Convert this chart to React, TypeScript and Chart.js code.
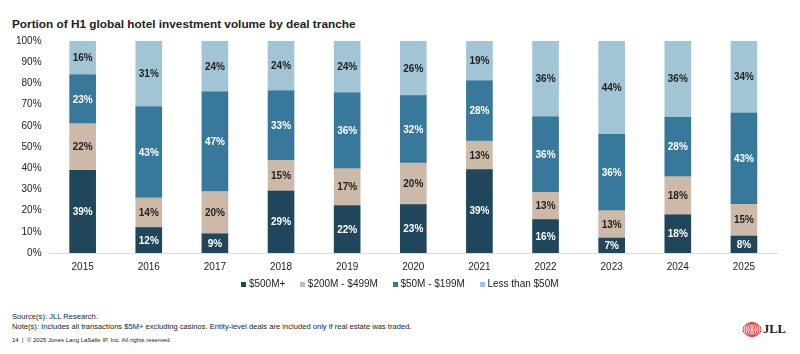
import React, { useEffect, useRef } from "react";
import { Chart, registerables } from "chart.js";

Chart.register(...registerables);

const years = ["2015", "2016", "2017", "2018", "2019", "2020", "2021", "2022", "2023", "2024", "2025"];
const over500 = [39, 12, 9, 29.2, 22.4, 22.8, 39.4, 15.8, 7, 18, 8];
const from200to499 = [22, 14, 20, 14.5, 17.4, 19.6, 13.4, 12.8, 13, 18, 15];
const from50to199 = [23, 43, 47, 32.8, 35.8, 31.8, 28.4, 35.6, 36, 28, 43];
const under50 = [16, 31, 24, 23.5, 24.4, 25.8, 18.8, 35.8, 44, 36, 34];
const seriesNames = ["$500M+", "$200M - $499M", "$50M - $199M", "Less than $50M"];
const seriesColors = ["#1f465b", "#cdb9a8", "#37789b", "#a2c5d6"];
const labelColors = ["#ffffff", "#222222", "#ffffff", "#222222"];

const FONT = "'Liberation Sans', Arial, Helvetica, sans-serif";

const dataLabelPlugin = {
  id: "segLabels",
  afterDatasetsDraw(chart: any) {
    const ctx = chart.ctx;
    ctx.save();
    ctx.font = `bold 10px ${FONT}`;
    ctx.textAlign = "center";
    ctx.textBaseline = "middle";
    chart.data.datasets.forEach((ds: any, di: number) => {
      const meta = chart.getDatasetMeta(di);
      meta.data.forEach((bar: any, i: number) => {
        const v = ds.data[i];
        const cy = (bar.y + bar.base) / 2;
        ctx.fillStyle = labelColors[di];
        ctx.fillText(Math.round(v) + "%", bar.x, cy + 0.5);
      });
    });
    ctx.restore();
  },
};

function BarChart() {
  const ref = useRef<HTMLCanvasElement | null>(null);
  useEffect(() => {
    if (!ref.current) return;
    const allSeries = [over500, from200to499, from50to199, under50];
    const chart = new Chart(ref.current, {
      type: "bar",
      data: {
        labels: years,
        datasets: allSeries.map((d, i) => ({
          label: seriesNames[i],
          data: d,
          backgroundColor: seriesColors[i],
          borderWidth: 0,
          barThickness: 26,
        })),
      },
      options: {
        animation: false,
        responsive: false,
        maintainAspectRatio: false,
        layout: { padding: { left: 8, right: 23, top: 2, bottom: 2 } },
        plugins: {
          legend: { display: false },
          tooltip: { enabled: false },
        },
        scales: {
          x: {
            stacked: true,
            grid: { display: false, drawTicks: false },
            border: { display: true, color: "#d9dde3" },
            ticks: { color: "#222", font: { family: FONT, size: 10 }, padding: 8 },
          },
          y: {
            stacked: true,
            min: 0,
            max: 100,
            grid: { display: false, drawTicks: false },
            border: { display: false },
            ticks: {
              stepSize: 10,
              color: "#222",
              font: { family: FONT, size: 10 },
              padding: 8,
              callback: (v: any) => v + "%",
            },
          },
        },
      },
      plugins: [dataLabelPlugin],
    });
    return () => chart.destroy();
  }, []);
  return <canvas ref={ref} width={800} height={256} style={{ display: "block", width: 800, height: 256 }} />;
}

function Legend() {
  return (
    <div style={{ position: "absolute", left: 0, top: 278, width: 800, display: "flex", justifyContent: "center", alignItems: "center", fontSize: 10, lineHeight: "12px", color: "#222" }}>
      {seriesNames.map((name, i) => (
        <div key={i} style={{ display: "flex", alignItems: "center", marginLeft: i === 0 ? 0 : 15 }}>
          <span style={{ display: "inline-block", width: 5, height: 5, background: seriesColors[i], marginRight: 2.5 }} />
          <span style={{ whiteSpace: "nowrap" }}>{name}</span>
        </div>
      ))}
    </div>
  );
}

export default function App() {
  return (
    <div style={{ position: "fixed", left: 0, top: 0, width: 800, height: 354, background: "#fff", fontFamily: FONT, color: "#222", overflow: "hidden" }}>
      <div style={{ position: "absolute", left: 12, top: 17, fontSize: 11.8, fontWeight: "bold", lineHeight: "14px", whiteSpace: "nowrap" }}>
        Portion of H1 global hotel investment volume by deal tranche
      </div>
      <div style={{ position: "absolute", left: 0, top: 27 }}>
        <BarChart />
      </div>
      <Legend />
      <div style={{ position: "absolute", left: 12, top: 312, fontSize: 7.6, lineHeight: "9.5px", whiteSpace: "nowrap" }}>
        <div>Source(s): JLL Research.</div>
        <div>Note(s): Includes all transactions $5M+ excluding casinos. Entity-level deals are included only if real estate was traded.</div>
      </div>
      <div style={{ position: "absolute", left: 12, top: 336, fontSize: 6, lineHeight: "8px", whiteSpace: "nowrap" }}>
        14&nbsp;&nbsp;|&nbsp;&nbsp;© 2025 Jones Lang LaSalle IP, Inc. All rights reserved.
      </div>
      <svg style={{ position: "absolute", left: 742, top: 322 }} width={22} height={15} viewBox="0 0 22 15">
        {[9, 7, 5, 3, 1.2].map((rx, i) => (
          <ellipse key={i} cx={10} cy={7.5} rx={rx} ry={6.8} fill="none" stroke="#e03a3e" strokeWidth={1} />
        ))}
      </svg>
      <div style={{ position: "absolute", left: 763, top: 322, fontSize: 12.5, fontWeight: "bold", fontFamily: "'Liberation Serif', 'DejaVu Serif', serif", lineHeight: "15px", color: "#1a1a1a" }}>
        JLL
      </div>
    </div>
  );
}
